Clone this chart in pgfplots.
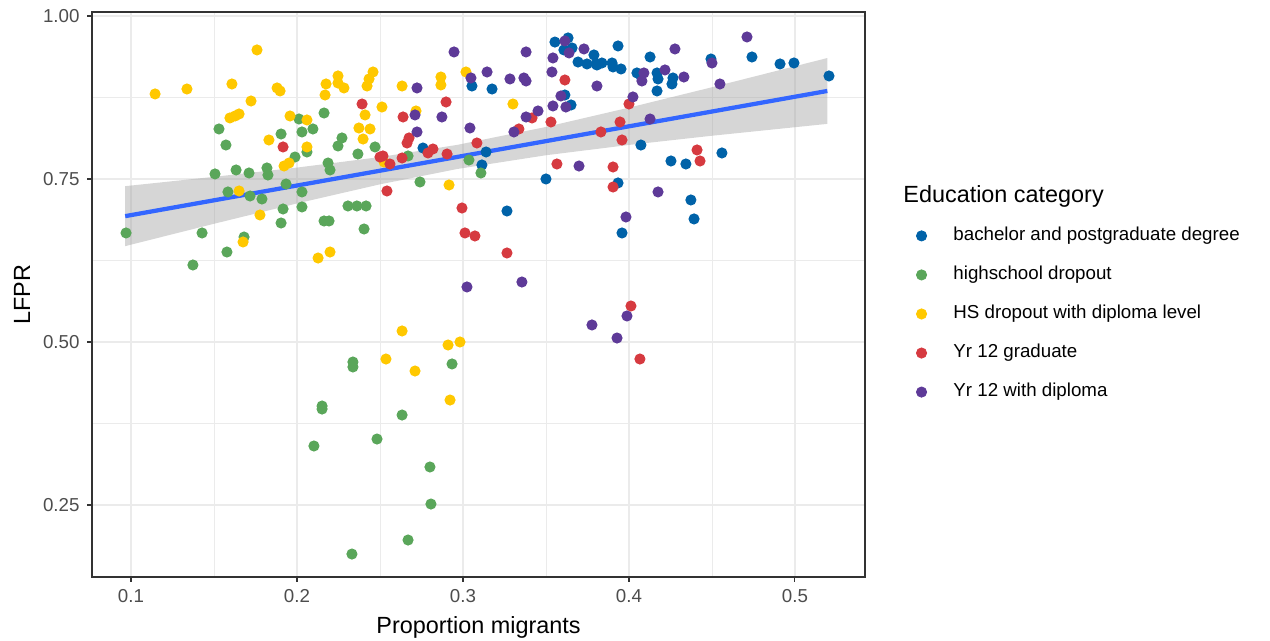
\documentclass[border=0pt]{standalone}
\usepackage{pgfplots}
\pgfplotsset{compat=1.18}
\usepackage{pgfplotstable}
\usepackage{fontspec}
\setmainfont{Liberation Sans}
\definecolor{cBlue}{RGB}{0,98,168}
\definecolor{cGreen}{RGB}{90,166,90}
\definecolor{cYellow}{RGB}{255,200,0}
\definecolor{cRed}{RGB}{214,58,64}
\definecolor{cPurple}{RGB}{94,58,152}
\definecolor{grid92}{RGB}{235,235,235}
\definecolor{grey20}{RGB}{51,51,51}
\definecolor{grey30}{RGB}{77,77,77}
\definecolor{smooth}{RGB}{51,102,255}

\pgfplotstableread{
x y
0.3554 0.9600
0.3633 0.9663
0.3608 0.9479
0.3657 0.9509
0.3693 0.9294
0.3747 0.9264
0.3789 0.9402
0.3801 0.9264
0.3054 0.8926
0.3175 0.8880
0.3614 0.8788
0.3651 0.8635
0.2759 0.7975
0.3139 0.7914
0.3114 0.7715
0.3500 0.7500
0.3265 0.7009
0.3807 0.9248
0.3837 0.9279
0.3898 0.9279
0.3904 0.9218
0.3934 0.9540
0.3952 0.9187
0.4048 0.9126
0.4072 0.9080
0.4127 0.9371
0.4169 0.9126
0.4175 0.9034
0.4169 0.8850
0.4265 0.9049
0.4259 0.8957
0.4494 0.9340
0.4741 0.9371
0.4910 0.9264
0.4994 0.9279
0.5205 0.9080
0.4072 0.8021
0.4253 0.7776
0.4343 0.7730
0.4560 0.7899
0.3934 0.7439
0.4373 0.7178
0.4392 0.6887
0.3958 0.6672
}\tblBlue

\pgfplotstableread{
x y
0.0970 0.6672
0.1373 0.6181
0.1428 0.6672
0.1578 0.6380
0.1681 0.6610
0.1530 0.8267
0.1572 0.8021
0.1506 0.7577
0.1633 0.7638
0.1711 0.7592
0.1819 0.7669
0.1825 0.7561
0.1584 0.7301
0.1717 0.7239
0.1789 0.7193
0.1904 0.8190
0.2012 0.8420
0.2030 0.8221
0.2096 0.8267
0.2163 0.8512
0.2271 0.8129
0.2247 0.8006
0.1988 0.7837
0.2060 0.7914
0.2187 0.7745
0.2199 0.7638
0.1934 0.7423
0.2030 0.7301
0.1916 0.7040
0.2030 0.7071
0.1904 0.6825
0.2163 0.6856
0.2193 0.6856
0.2307 0.7086
0.2361 0.7086
0.2416 0.7086
0.2404 0.6733
0.2367 0.7883
0.2470 0.7991
0.2669 0.7853
0.2741 0.7454
0.3036 0.7791
0.3108 0.7592
0.2337 0.4693
0.2337 0.4617
0.2934 0.4663
0.2151 0.4018
0.2151 0.3972
0.2633 0.3880
0.2102 0.3405
0.2482 0.3512
0.2801 0.3083
0.2807 0.2515
0.2669 0.1963
0.2331 0.1748
}\tblGreen

\pgfplotstableread{
x y
0.1145 0.8804
0.1337 0.8880
0.1608 0.8957
0.1759 0.9479
0.1880 0.8896
0.1898 0.8850
0.1723 0.8696
0.1596 0.8436
0.1627 0.8466
0.1651 0.8497
0.1958 0.8466
0.2060 0.8405
0.1831 0.8098
0.2060 0.7991
0.1922 0.7699
0.1952 0.7745
0.2175 0.8957
0.2169 0.8788
0.2247 0.9080
0.2247 0.8972
0.2283 0.8896
0.1651 0.7316
0.2422 0.8926
0.2434 0.9034
0.2458 0.9141
0.2410 0.8482
0.2373 0.8282
0.2440 0.8267
0.2398 0.8113
0.2512 0.8604
0.2633 0.8926
0.2717 0.8543
0.2867 0.9064
0.2867 0.8942
0.3018 0.9141
0.3301 0.8650
0.2524 0.7761
0.2916 0.7408
0.1777 0.6948
0.1675 0.6534
0.2127 0.6288
0.2199 0.6380
0.2633 0.5169
0.2910 0.4954
0.2982 0.5000
0.2536 0.4739
0.2711 0.4555
0.2922 0.4110
}\tblYellow

\pgfplotstableread{
x y
0.1916 0.7991
0.2392 0.8650
0.2500 0.7837
0.2639 0.8451
0.2898 0.8681
0.2663 0.8052
0.2675 0.8129
0.2518 0.7853
0.2560 0.7730
0.2633 0.7822
0.2789 0.7899
0.2819 0.7960
0.2904 0.7883
0.3084 0.8052
0.3416 0.8436
0.3530 0.8374
0.3337 0.8267
0.3566 0.7730
0.3614 0.9018
0.2542 0.7316
0.2994 0.7055
0.4000 0.8650
0.3946 0.8374
0.3831 0.8221
0.3958 0.8098
0.4410 0.7945
0.4428 0.7776
0.3904 0.7684
0.3904 0.7377
0.3012 0.6672
0.3072 0.6626
0.3265 0.6365
0.4012 0.5552
0.4066 0.4739
}\tblRed

\pgfplotstableread{
x y
0.2946 0.9448
0.3380 0.9448
0.3542 0.9356
0.3614 0.9617
0.3639 0.9433
0.3729 0.9494
0.2723 0.8896
0.3048 0.9049
0.3145 0.9141
0.3283 0.9034
0.3367 0.9049
0.3380 0.9003
0.3536 0.9141
0.3590 0.8773
0.3620 0.8604
0.3542 0.8620
0.3452 0.8543
0.3380 0.8451
0.2873 0.8451
0.2711 0.8482
0.2723 0.8221
0.3042 0.8282
0.3307 0.8221
0.3699 0.7699
0.3807 0.8926
0.4711 0.9678
0.4277 0.9494
0.4500 0.9279
0.4090 0.9126
0.4078 0.9003
0.4217 0.9172
0.4331 0.9064
0.4024 0.8758
0.4548 0.8957
0.4127 0.8420
0.4175 0.7301
0.3024 0.5844
0.3355 0.5920
0.3777 0.5261
0.3988 0.5399
0.3982 0.6917
0.3928 0.5061
}\tblPurple

\begin{document}
\begin{tikzpicture}
\path[use as bounding box] (0,0) rectangle (596.9pt,301.27pt);
\begin{axis}[
  at={(43.24pt,30.08pt)}, anchor=south west,
  scale only axis, width=363.31pt, height=265.55pt,
  xmin=0.0765, xmax=0.5422, ymin=0.1396, ymax=1.0061,
  xtick={0.1,0.2,0.3,0.4,0.5},
  ytick={0.25,0.5,0.75,1.0},
  minor xtick={0.15,0.25,0.35,0.45},
  minor ytick={0.375,0.625,0.875},
  grid=both,
  major grid style={color=grid92, line width=0.55pt},
  minor grid style={color=grid92, line width=0.3pt},
  axis line style={color=grey20, line width=0.5pt},
  tick style={color=grey20, line width=0.5pt},
  tick align=outside, major tick length=2.35pt, minor tick length=0pt,
  xtick pos=bottom, ytick pos=left,
  /pgf/number format/assume math mode=true,
  xticklabel style={/pgf/number format/.cd, fixed, fixed zerofill, precision=1},
  yticklabel style={/pgf/number format/.cd, fixed, fixed zerofill, precision=2},
  ticklabel style={font=\fontsize{8.8}{10}\selectfont, color=grey30},
  xlabel={Proportion migrants}, ylabel={LFPR},
  label style={font=\fontsize{11}{13}\selectfont},
  xlabel style={at={(axis description cs:0.5,-0.0885)}, anchor=center},
  ylabel style={at={(axis description cs:-0.0906,0.5)}, anchor=center},
  legend cell align=left,
  legend image code/.code={\draw[#1] plot coordinates {(0pt,0pt)};},
  legend style={draw=none, fill=none, inner sep=0pt, column sep=12.6pt, row sep=9.85pt,
    at={(axis description cs:1.066,0.4655)}, anchor=west,
    nodes={inner sep=0pt, text height=6.5pt, text depth=2pt},
    font=\fontsize{8.8}{10}\selectfont},
  clip=true,
]
\addplot[only marks, mark=*, mark size=2.4pt, color=cBlue] table[x=x,y=y] {\tblBlue};
\addlegendentry{bachelor and postgraduate degree}
\addplot[only marks, mark=*, mark size=2.4pt, color=cGreen] table[x=x,y=y] {\tblGreen};
\addlegendentry{highschool dropout}
\addplot[only marks, mark=*, mark size=2.4pt, color=cYellow] table[x=x,y=y] {\tblYellow};
\addlegendentry{HS dropout with diploma level}
\addplot[only marks, mark=*, mark size=2.4pt, color=cRed] table[x=x,y=y] {\tblRed};
\addlegendentry{Yr 12 graduate}
\addplot[only marks, mark=*, mark size=2.4pt, color=cPurple] table[x=x,y=y] {\tblPurple};
\addlegendentry{Yr 12 with diploma}
% confidence band
\addplot[forget plot, draw=none, fill=black!40, fill opacity=0.4] coordinates {
(0.0965,0.7390) (0.15,0.7533) (0.2,0.7675) (0.25,0.7836) (0.2965,0.8023) (0.35,0.8298) (0.4,0.8594) (0.45,0.8907) (0.5195,0.9355)
(0.5195,0.8345) (0.45,0.8163) (0.4,0.8022) (0.35,0.7864) (0.2965,0.7653) (0.25,0.7418) (0.2,0.7125) (0.15,0.6813) (0.0965,0.6470)
} -- cycle;
\addplot[forget plot, color=smooth, line width=2pt] coordinates {(0.0965,0.6930) (0.5195,0.8850)};
\end{axis}
\node[anchor=base west, inner sep=0pt, font=\fontsize{11}{13}\selectfont] at (424.4pt,206.2pt) {Education category};
\end{tikzpicture}
\end{document}
